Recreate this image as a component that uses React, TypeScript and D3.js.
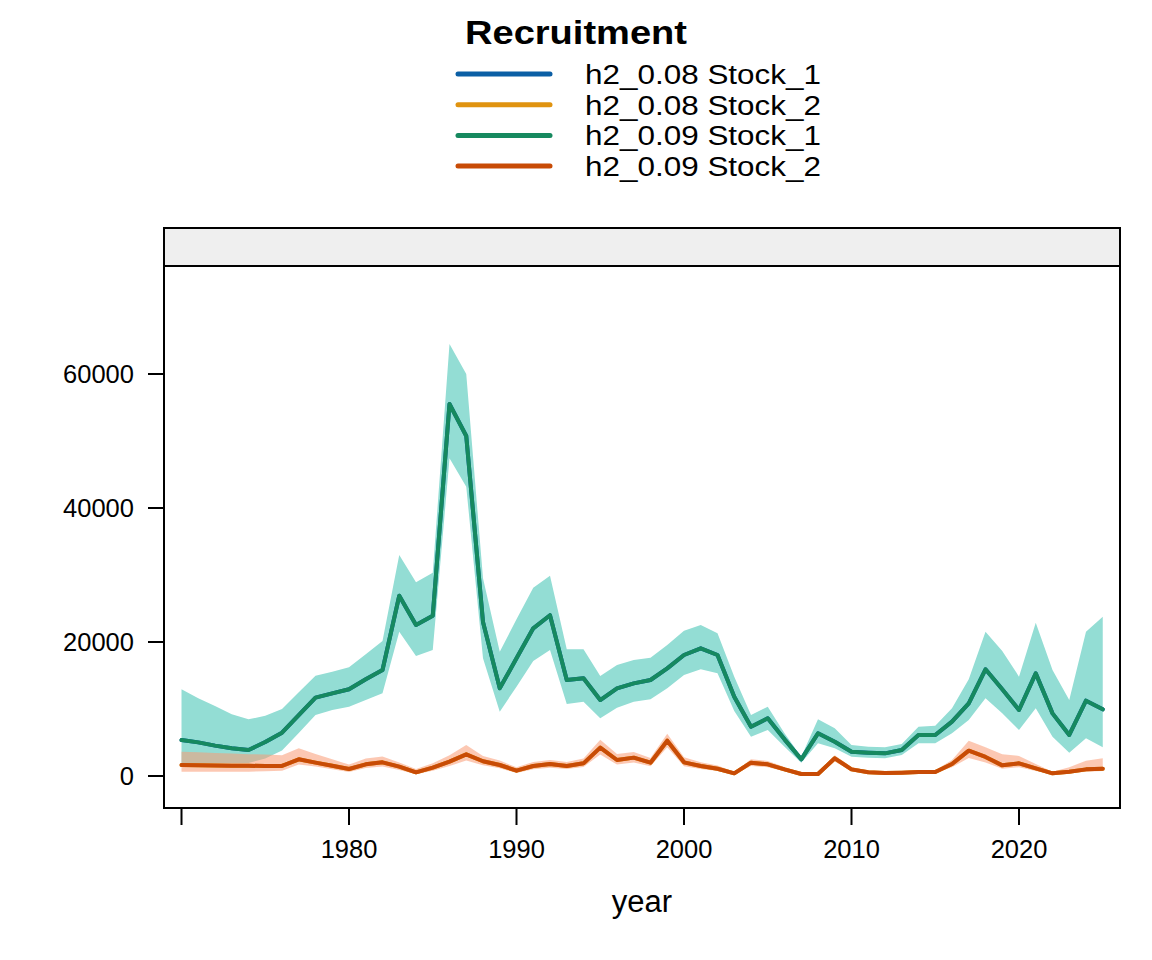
import React from "react";
import * as d3 from "d3";

const years: number[] = d3.range(1970, 2026);

const stock1: number[] = [5370, 5020, 4530, 4130, 3880, 5070, 6470, 9100, 11690, 12340, 12940, 14430, 15820, 26900, 22540, 23930, 55520, 50750, 23000, 13090, 17560, 22040, 24000, 14330, 14580, 11340, 13090, 13830, 14330, 16070, 18060, 19050, 18060, 11840, 7360, 8610, 5470, 2490, 6370, 5120, 3630, 3480, 3380, 3880, 6120, 6120, 8110, 10850, 15920, 12940, 9850, 15320, 9350, 6120, 11240, 9950];
const stock1Upper: number[] = [12940, 11590, 10450, 9200, 8460, 9000, 10000, 12490, 14970, 15570, 16220, 18160, 20150, 32980, 28900, 30350, 64480, 60000, 29500, 18560, 23380, 28110, 29900, 18900, 18900, 14930, 16570, 17310, 17660, 19550, 21690, 22540, 21290, 14830, 9100, 10350, 6370, 2890, 8460, 7110, 4630, 4380, 4280, 4780, 7360, 7510, 10100, 14430, 21540, 18660, 14830, 22890, 15820, 11340, 21540, 23780];
const stock1Lower: number[] = [1900, 1900, 1900, 1900, 1950, 2600, 3800, 6400, 9100, 9850, 10350, 11340, 12340, 21540, 17910, 18810, 47410, 43180, 17560, 9600, 13330, 17160, 18800, 10750, 11090, 8610, 10200, 11090, 11440, 13080, 15070, 15920, 15320, 9700, 5870, 6870, 4380, 1990, 4880, 4130, 2890, 2740, 2640, 3130, 4880, 4880, 6370, 8360, 11590, 9350, 6870, 10100, 5870, 3480, 5620, 4280];

const stock2: number[] = [1640, 1600, 1560, 1540, 1520, 1500, 1500, 2490, 2000, 1540, 1040, 1740, 2040, 1390, 550, 1240, 2140, 3230, 2200, 1640, 800, 1490, 1790, 1490, 1890, 4230, 2390, 2740, 1990, 5270, 2040, 1490, 1090, 400, 1990, 1740, 990, 300, 300, 2640, 990, 550, 450, 500, 600, 600, 1790, 3780, 2840, 1590, 1890, 1140, 400, 650, 990, 1090];
const stock2Upper: number[] = [3630, 3550, 3450, 3350, 3250, 3200, 3100, 4130, 3300, 2500, 1700, 2600, 2900, 2000, 1040, 1900, 3100, 4630, 3000, 2300, 1300, 2100, 2400, 2100, 2600, 5400, 3300, 3600, 2700, 6300, 2800, 2050, 1550, 650, 2500, 2250, 1350, 500, 500, 3100, 1350, 800, 700, 750, 850, 850, 2400, 5270, 4300, 3230, 3000, 1800, 650, 1300, 2290, 2640];
const stock2Lower: number[] = [650, 650, 650, 650, 650, 700, 800, 1700, 1400, 1000, 600, 1200, 1400, 900, 250, 800, 1500, 2300, 1600, 1150, 450, 1000, 1250, 1050, 1350, 3200, 1700, 2000, 1450, 4300, 1450, 1050, 750, 200, 1500, 1300, 700, 150, 150, 2150, 700, 350, 300, 320, 400, 400, 1300, 2700, 2000, 1100, 1300, 750, 250, 400, 650, 750];

const legendLabels: string[] = ["h2_0.08 Stock_1", "h2_0.08 Stock_2", "h2_0.09 Stock_1", "h2_0.09 Stock_2"];
const legendColors: string[] = ["#0b5fa5", "#e0930f", "#16895f", "#c84b06"];

const xTicks: number[] = [1970, 1980, 1990, 2000, 2010, 2020];
const xTickLabels: string[] = ["", "1980", "1990", "2000", "2010", "2020"];
const yTicks: number[] = [0, 20000, 40000, 60000];
const yTickLabels: string[] = ["0", "20000", "40000", "60000"];

const FONT = "'Liberation Sans', Arial, Helvetica, sans-serif";

export default function App() {
  const left = 164, right = 1120, top = 266, bottom = 808, stripTop = 228;
  const x = d3.scaleLinear().domain([1968.955, 2026.03]).range([left, right]);
  const y = d3.scaleLinear().domain([-4776, 76119]).range([bottom, top]);

  const line = (vals: number[]) =>
    d3.line<number>().x((_, i) => x(years[i])).y((v) => y(v))(vals) || "";
  const band = (lo: number[], hi: number[]) =>
    d3.area<number>().x((_, i) => x(years[i])).y0((_, i) => y(lo[i])).y1((_, i) => y(hi[i]))(years) || "";

  return (
    <div style={{ position: "absolute", left: 0, top: 0 }}>
      <svg width={1152} height={960} style={{ display: "block", background: "#fff" }} fontFamily={FONT}>
        <rect x={0} y={0} width={1152} height={960} fill="#fff" />
        {/* legend */}
        <text x={465} y={44} fontSize={34} fontWeight="bold" fill="#000" textLength={222} lengthAdjust="spacingAndGlyphs">Recruitment</text>
        {legendLabels.map((lab, i) => {
          const ly = 74 + i * 30.7;
          return (
            <g key={lab}>
              <line x1={458} x2={550} y1={ly} y2={ly} stroke={legendColors[i]} strokeWidth={5} strokeLinecap="round" />
              <text x={585} y={ly + 10} fontSize={27} fill="#000" textLength={236} lengthAdjust="spacingAndGlyphs">{lab}</text>
            </g>
          );
        })}

        {/* strip */}
        <rect x={left} y={stripTop} width={right - left} height={top - stripTop} fill="#efefef" stroke="#000" strokeWidth={2} />

        {/* bands */}
        <path d={band(stock1Lower, stock1Upper)} fill="#93ddd4" />
        <path d={band(stock2Lower, stock2Upper)} fill="#fa9a75" fillOpacity={0.55} />

        {/* lines */}
        <path d={line(stock1)} fill="none" stroke={legendColors[0]} strokeWidth={4} strokeLinejoin="round" strokeLinecap="round" />
        <path d={line(stock2)} fill="none" stroke={legendColors[1]} strokeWidth={4} strokeLinejoin="round" strokeLinecap="round" />
        <path d={line(stock1)} fill="none" stroke={legendColors[2]} strokeWidth={4} strokeLinejoin="round" strokeLinecap="round" />
        <path d={line(stock2)} fill="none" stroke={legendColors[3]} strokeWidth={4} strokeLinejoin="round" strokeLinecap="round" />

        {/* panel box */}
        <rect x={left} y={top} width={right - left} height={bottom - top} fill="none" stroke="#000" strokeWidth={2} />

        {/* y axis */}
        {yTicks.map((t, i) => (
          <g key={t}>
            <line x1={148} x2={left} y1={y(t)} y2={y(t)} stroke="#000" strokeWidth={2} />
            <text x={134} y={y(t) + 9} fontSize={25.5} textAnchor="end" fill="#000">{yTickLabels[i]}</text>
          </g>
        ))}

        {/* x axis */}
        {xTicks.map((t, i) => (
          <g key={t}>
            <line x1={x(t)} x2={x(t)} y1={bottom} y2={825} stroke="#000" strokeWidth={2} />
            <text x={x(t)} y={858} fontSize={25.5} textAnchor="middle" fill="#000">{xTickLabels[i]}</text>
          </g>
        ))}
        <text x={(left + right) / 2} y={912} fontSize={31} textAnchor="middle" fill="#000">year</text>
      </svg>
    </div>
  );
}
